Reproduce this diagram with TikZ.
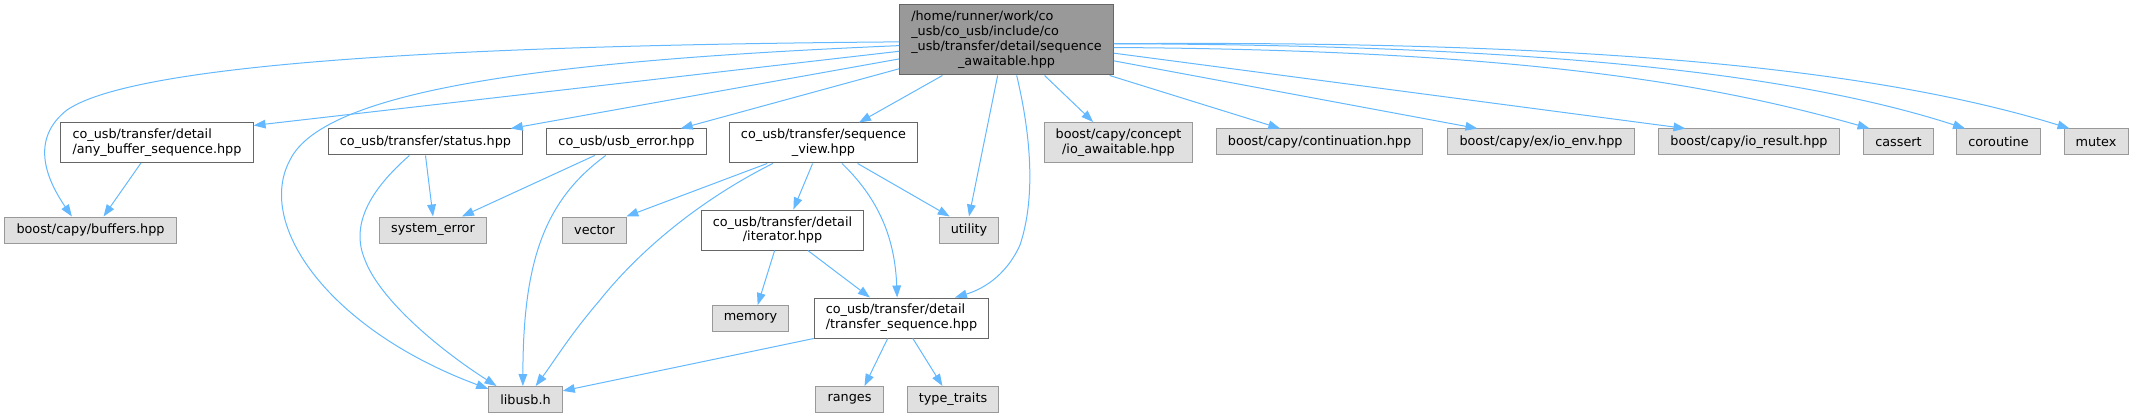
\documentclass[tikz,border=0pt]{standalone}
\usepackage{fontspec}
\setmainfont{DejaVu Sans}
\usetikzlibrary{arrows.meta}
\definecolor{incblue}{HTML}{63B8FF}
\definecolor{sysfill}{HTML}{E0E0E0}
\definecolor{sysline}{HTML}{999999}
\definecolor{fileline}{HTML}{666666}
\tikzset{hdr/.style={draw=fileline, line width=0.75pt, fill=white, inner xsep=8.7pt, inner ysep=3pt,
           minimum height=19.5pt, font=\fontsize{9.6}{11.2}\selectfont},
         syshdr/.style={hdr, draw=sysline, fill=sysfill},
         roothdr/.style={hdr, fill=sysline, minimum height=52.5pt},
         twoline/.style={minimum height=30pt},
         inc/.style={draw=incblue, line width=0.75pt, -{Triangle[length=9pt,width=6.5pt]}}}

\begin{document}
\begin{tikzpicture}[x=0.75pt,y=-0.75pt]
   \useasboundingbox (0,0) rectangle (2133,417);
   % top row
   \node[roothdr] (root) at (1006.5,40)
     {\begin{tabular}{@{}l@{}}/home/runner/work/co\\\_usb/co\_usb/include/co\\\_usb/transfer/detail/sequence\\
      \multicolumn{1}{@{}c@{}}{\_awaitable.hpp}\end{tabular}};
   % includes of the file
   \node[hdr,twoline,align=left] (anybuf) at (157,142.5) {co\_usb/transfer/detail\\/any\_buffer\_sequence.hpp};
   \node[hdr] (status) at (425.5,142) {co\_usb/transfer/status.hpp};
   \node[hdr] (usberr) at (626.5,142) {co\_usb/usb\_error.hpp};
   \node[hdr,twoline,align=center] (seqview) at (823.5,143) {co\_usb/transfer/sequence\\\_view.hpp};
   \node[syshdr,twoline,align=center] (ioawait) at (1118.5,142.5) {boost/capy/concept\\/io\_awaitable.hpp};
   \node[syshdr] (contin) at (1319.5,142) {boost/capy/continuation.hpp};
   \node[syshdr] (ioenv) at (1541,142) {boost/capy/ex/io\_env.hpp};
   \node[syshdr] (iores) at (1749,142) {boost/capy/io\_result.hpp};
   \node[syshdr] (cassert) at (1898.5,142) {cassert};
   \node[syshdr] (corout) at (1998.5,142) {coroutine};
   \node[syshdr] (mutex) at (2096,142) {mutex};
   % second level
   \node[syshdr] (buffers) at (90.5,230) {boost/capy/buffers.hpp};
   \node[syshdr] (syserr) at (433,230) {system\_error};
   \node[syshdr] (vector) at (594.5,230) {vector};
   \node[hdr,twoline,align=center] (iterator) at (782.5,230) {co\_usb/transfer/detail\\/iterator.hpp};
   \node[syshdr] (utility) at (969,230) {utility};
   \node[syshdr] (memory) at (750.5,318.5) {memory};
   \node[hdr,twoline,align=left] (tseq) at (901.5,318) {co\_usb/transfer/detail\\/transfer\_sequence.hpp};
   \node[syshdr] (libusb) at (525.5,399.5) {libusb.h};
   \node[syshdr] (ranges) at (849.5,399.5) {ranges};
   \node[syshdr] (typetr) at (953,399.5) {type\_traits};

   % edges from the root
   \draw[inc] (root.181.6) .. controls (500,45) and (140,60) .. (67,110) .. controls (35,135) and (40,170) .. (buffers.144.9);
   \draw[inc] (root.186.4) -- (anybuf.10.9);
   \draw[inc] (root.183.7) .. controls (560,60) and (325,88) .. (290,160) .. controls (255,225) and (330,330) .. (libusb.164);
   \draw[inc] (root.190) -- (status.9.9);
   \draw[inc] (root.195.6) -- (usberr.14.4);
   \draw[inc] (root.209.6) -- (seqview.30.1);
   \draw[inc] (root.256.3) -- (utility.north);
   \draw[inc] (root.286.7) .. controls (1032,140) and (1035,200) .. (1020,245) .. controls (1005,278) and (980,290) .. (tseq.21.2);
   \draw[inc] (root.317.7) -- (ioawait.141.2);
   \draw[inc] (root.341.6) -- (contin.161.8);
   \draw[inc] (root.349) -- (ioenv.168.5);
   \draw[inc] (root.353.1) -- (iores.168.3);
   \draw[inc] (root.356.8) .. controls (1500,50) and (1700,80) .. (cassert.155.5);
   \draw[inc] (root.358.4) .. controls (1550,45) and (1800,75) .. (corout.158.2);
   \draw[inc] (root.358.9) .. controls (1600,40) and (1880,70) .. (mutex.153.4);
   % the rest
   \draw[inc] (anybuf.232.4) -- (buffers.46.1);
   \draw[inc] (status.south) -- (syserr.north);
   \draw[inc] (status.220) .. controls (370,190) and (350,225) .. (365,260) .. controls (380,300) and (440,350) .. (libusb.155.9);
   \draw[inc] (usberr.203.8) -- (syserr.25.7);
   \draw[inc] (usberr.213.7) .. controls (545,200) and (523,260) .. (libusb.101);
   \draw[inc] (seqview.200.5) -- (vector.23.4);
   \draw[inc] (seqview.202.8) .. controls (700,200) and (640,250) .. (600,300) .. controls (570,335) and (555,360) .. (libusb.53.3);
   \draw[inc] (seqview.242.3) -- (iterator.62.3);
   \draw[inc] (seqview.312.8) .. controls (880,200) and (895,240) .. (tseq.102.7);
   \draw[inc] (seqview.329.2) -- (utility.145.6);
   \draw[inc] (iterator.249.4) -- (memory.62.5);
   \draw[inc] (iterator.321.9) -- (tseq.147.6);
   \draw[inc] (tseq.south west) -- (libusb.13.1);
   \draw[inc] (tseq.236) -- (ranges.42.8);
   \draw[inc] (tseq.299.9) -- (typetr.128.7);
\end{tikzpicture}
\end{document}
